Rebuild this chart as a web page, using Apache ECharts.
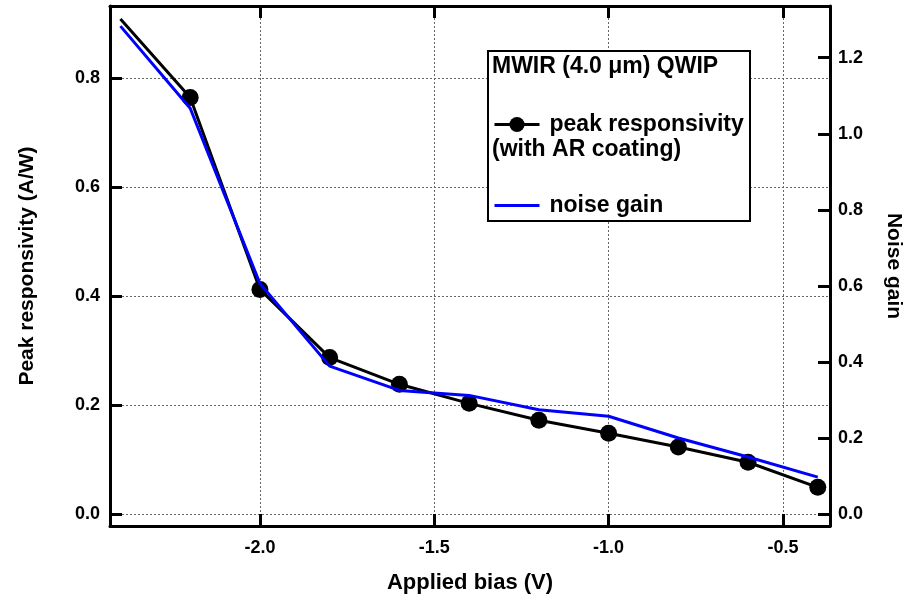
<!DOCTYPE html>
<html>
<head>
<meta charset="utf-8">
<script src="https://cdn.jsdelivr.net/npm/echarts@6/dist/echarts.min.js"></script>
<style>
html,body{margin:0;padding:0;background:#fff;}
#chart{width:914px;height:599px;}
</style>
</head>
<body>
<div id="chart"></div>
<script>
// ---- data ----
const biasV = [-2.4, -2.2, -2.0, -1.8, -1.6, -1.4, -1.2, -1.0, -0.8, -0.6, -0.4];
const peakResponsivity = [0.908, 0.764, 0.412, 0.287, 0.238, 0.203, 0.172, 0.148, 0.123, 0.095, 0.049];
const noiseGain = [1.283, 1.067, 0.606, 0.389, 0.325, 0.312, 0.274, 0.257, 0.200, 0.150, 0.097];
const xTicks = [-2.0, -1.5, -1.0, -0.5];
const yLeftTicks = [0.0, 0.2, 0.4, 0.6, 0.8];
const yRightTicks = [0.0, 0.2, 0.4, 0.6, 0.8, 1.0, 1.2];
const legendTitle = 'MWIR (4.0 μm) QWIP';
const seriesNames = ['peak responsivity', 'noise gain'];

const FONT = "'Liberation Sans', Arial, sans-serif";
const chart = echarts.init(document.getElementById('chart'), null, {renderer: 'canvas'});

const respData = biasV.map((x, i) => i === 0 ? {value: [x, peakResponsivity[i]], symbol: 'none'} : [x, peakResponsivity[i]]);
const gainData = biasV.map((x, i) => [x, noiseGain[i]]);

const labelStyle = {color: '#000', fontFamily: FONT, fontWeight: 'bold', fontSize: 18};
const nameStyle = {color: '#000', fontFamily: FONT, fontWeight: 'bold', fontSize: 21};
const gridLine = {show: true, lineStyle: {color: '#666', width: 1, type: [2, 2]}};

chart.setOption({
  animation: false,
  backgroundColor: '#fff',
  grid: {left: 110, right: 84, top: 6, bottom: 73, containLabel: false},
  xAxis: [{
    type: 'value', min: -2.43, max: -0.365, position: 'bottom',
    name: 'Applied bias (V)', nameLocation: 'middle', nameGap: 46, nameTextStyle: {...nameStyle, fontSize: 22},
    axisLine: {show: true, onZero: false, lineStyle: {color: '#000', width: 3}},
    axisTick: {show: true, inside: true, length: 12, customValues: xTicks, lineStyle: {color: '#000', width: 3}},
    axisLabel: {show: true, margin: 13, customValues: xTicks, formatter: v => v.toFixed(1), ...labelStyle},
    splitLine: gridLine
  }, {
    type: 'value', min: -2.43, max: -0.365, position: 'top',
    axisLine: {show: true, onZero: false, lineStyle: {color: '#000', width: 3}},
    axisTick: {show: true, inside: true, length: 12, customValues: xTicks, lineStyle: {color: '#000', width: 3}},
    axisLabel: {show: false},
    splitLine: {show: false}
  }],
  yAxis: [{
    type: 'value', min: -0.022, max: 0.932, position: 'left',
    name: 'Peak responsivity (A/W)', nameLocation: 'middle', nameGap: 72, nameTextStyle: nameStyle,
    axisLine: {show: true, onZero: false, lineStyle: {color: '#000', width: 3}},
    axisTick: {show: true, inside: true, length: 12, customValues: yLeftTicks, lineStyle: {color: '#000', width: 3}},
    axisLabel: {show: true, margin: 10, customValues: yLeftTicks, formatter: v => v.toFixed(1), ...labelStyle},
    splitLine: gridLine
  }, {
    type: 'value', min: -0.0315, max: 1.336, position: 'right', alignTicks: false,
    name: 'Noise gain', nameLocation: 'middle', nameGap: 53, nameRotate: -90,
    nameTextStyle: {...nameStyle, padding: [0, 0, 0, 0]},
    axisLine: {show: true, onZero: false, lineStyle: {color: '#000', width: 3}},
    axisTick: {show: true, inside: true, length: 12, customValues: yRightTicks, lineStyle: {color: '#000', width: 3}},
    axisLabel: {show: true, margin: 8, customValues: yRightTicks, formatter: v => v.toFixed(1), ...labelStyle},
    splitLine: {show: false}
  }],
  legend: {
    orient: 'vertical', left: 488, top: 108,
    itemWidth: 45, itemHeight: 19, itemGap: 58,
    lineStyle: {width: 3},
    textStyle: {color: '#000', fontFamily: FONT, fontWeight: 'bold', fontSize: 23, padding: [0, 0, 0, 5]},
    data: [
      {name: seriesNames[0]},
      {name: seriesNames[1], itemStyle: {opacity: 0}}
    ],
    selectedMode: false
  },
  graphic: [
    {type: 'rect', z: 1, shape: {x: 488, y: 51, width: 262, height: 170},
     style: {fill: '#fff', stroke: '#000', lineWidth: 2}},
    {type: 'text', z: 2, x: 492, y: 67,
     style: {text: legendTitle, fill: '#000', font: "bold 23px 'Liberation Sans', Arial, sans-serif", textVerticalAlign: 'middle'}},
    {type: 'text', z: 2, x: 492, y: 150,
     style: {text: '(with AR coating)', fill: '#000', font: "bold 23px 'Liberation Sans', Arial, sans-serif", textVerticalAlign: 'middle'}}
  ],
  series: [{
    name: seriesNames[0], type: 'line', xAxisIndex: 0, yAxisIndex: 0,
    data: respData, symbol: 'circle', symbolSize: 17, showSymbol: true,
    lineStyle: {color: '#000', width: 3}, itemStyle: {color: '#000'}, z: 3
  }, {
    name: seriesNames[1], type: 'line', xAxisIndex: 0, yAxisIndex: 1,
    data: gainData, symbol: 'none',
    lineStyle: {color: '#0000ff', width: 3}, itemStyle: {color: '#0000ff'}, z: 4
  }]
});
</script>
</body>
</html>
